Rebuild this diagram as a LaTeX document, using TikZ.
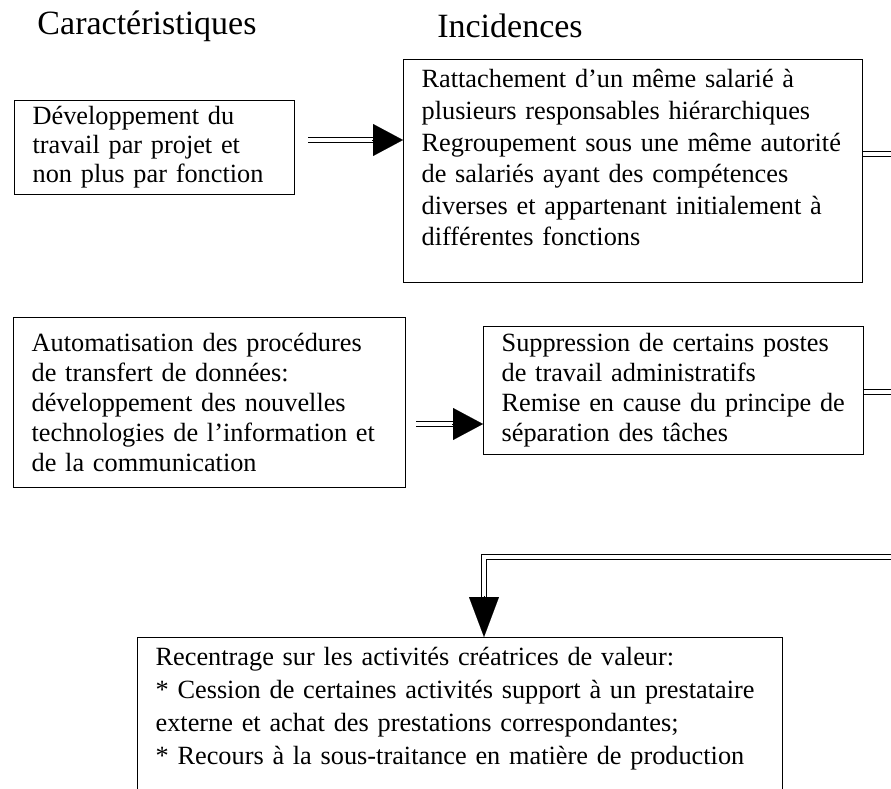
\documentclass[tikz,border=0pt]{standalone}
\usepackage{fontspec}
\setmainfont{Liberation Serif}
\usetikzlibrary{arrows.meta}
\newcommand\Lx[1]{\mbox{#1}}
\tikzset{
  box/.style={draw, line width=1.3pt, inner xsep=18pt, inner ysep=6pt, align=left, anchor=north west,
    font=\fontsize{26.3}{30}\selectfont},
  ttl/.style={font=\fontsize{34}{39}\selectfont, inner sep=0pt},
  dbl/.style={draw, double, double distance=3.6pt, line width=1.6pt},
  tip/.style={line width=0.1pt, -{Triangle[length=30pt,width=32pt]}},
  tipv/.style={line width=0.1pt, -{Triangle[length=40pt,width=30pt]}}
}
\begin{document}
\begin{tikzpicture}[x=1pt,y=-1pt]
\useasboundingbox (0,0) rectangle (891,789);
\clip (0,0) rectangle (891,789);

\node[ttl] (t1) at (147,26) {Caractéristiques};
\node[ttl] (t2) at (510,26) {Incidences};

\node[box, text width=244pt, minimum height=94pt, font=\fontsize{26.3}{29}\selectfont] (b1) at (14,100)
  {\Lx{Développement du}\\ \Lx{travail par projet et}\\ \Lx{non plus par fonction}};
\node[box, text width=423pt, minimum height=223pt, font=\fontsize{26.3}{31.6}\selectfont] (b2) at (403,59)
  {\Lx{Rattachement d’un même salarié à}\\ \Lx{plusieurs responsables hiérarchiques}\\ \Lx{Regroupement sous une même autorité}\\ \Lx{de salariés ayant des compétences}\\ \Lx{diverses et appartenant initialement à}\\ \Lx{différentes fonctions}\\[-5pt] \mbox{}};
\node[box, text width=356pt, minimum height=170pt] (b3) at (13,317)
  {\Lx{Automatisation des procédures}\\ \Lx{de transfert de données:}\\ \Lx{développement des nouvelles}\\ \Lx{technologies de l’information et}\\ \Lx{de la communication}};
\node[box, text width=344pt, minimum height=128pt] (b4) at (483,326)
  {\Lx{Suppression de certains postes}\\ \Lx{de travail administratifs}\\ \Lx{Remise en cause du principe de}\\ \Lx{séparation des tâches}};
\node[box, text width=609pt, inner ysep=10pt, font=\fontsize{26.3}{33}\selectfont] (b5) at (137,637)
  {\Lx{Recentrage sur les activités créatrices de valeur:}\\ \Lx{* Cession de certaines activités support à un prestataire}\\ \Lx{externe et achat des prestations correspondantes;}\\ \Lx{* Recours à la sous-traitance en matière de production}\\ \mbox{}};

% arrow b1 -> b2
\coordinate (a1) at (308,140);
\draw[dbl] (a1) -- ([xshift=-28pt]b2.west |- a1);
\draw[tip] ([xshift=-31pt]b2.west |- a1) -- (b2.west |- a1);

% arrow b3 -> b4
\coordinate (a2) at (416,424);
\draw[dbl] (a2) -- ([xshift=-28pt]b4.west |- a2);
\draw[tip] ([xshift=-31pt]b4.west |- a2) -- (b4.west |- a2);

% right stubs
\coordinate (r1) at (896,154);
\draw[dbl] (b2.east |- r1) -- (r1);
\coordinate (r2) at (896,392);
\draw[dbl] (b4.east |- r2) -- (r2);

% long return to bottom box
\coordinate (r3) at (896,557);
\coordinate (c3) at (484,557);
\draw[dbl] (r3) -- (c3) -- ([yshift=38pt]b5.north -| c3);
\draw[tipv] ([yshift=41pt]b5.north -| c3) -- (b5.north -| c3);
\end{tikzpicture}
\end{document}
